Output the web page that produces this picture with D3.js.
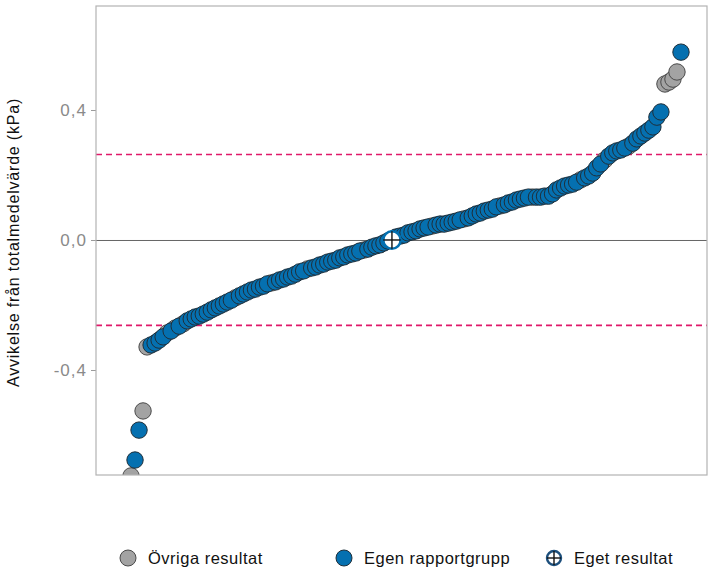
<!DOCTYPE html>
<html>
<head>
<meta charset="utf-8">
<script src="https://cdn.jsdelivr.net/npm/d3@7"></script>
<style>
  html, body { margin: 0; padding: 0; background: #fff; }
  svg { display: block; font-family: "Liberation Sans", Arial, sans-serif; }
</style>
</head>
<body>
<svg id="chart" width="710" height="570"></svg>
<script>
// Deviation from the overall mean (kPa), sorted ascending, one value per laboratory
const deviations = [
  -0.726, -0.677, -0.585, -0.526, -0.329, -0.323, -0.317, -0.308, -0.298, -0.286,
  -0.280, -0.271, -0.265, -0.258, -0.249, -0.243, -0.237, -0.234, -0.228, -0.222,
  -0.215, -0.209, -0.203, -0.197, -0.191, -0.185, -0.178, -0.172, -0.166, -0.160,
  -0.154, -0.151, -0.145, -0.142, -0.135, -0.132, -0.129, -0.123, -0.120, -0.114,
  -0.111, -0.105, -0.098, -0.095, -0.089, -0.086, -0.083, -0.077, -0.074, -0.068,
  -0.065, -0.062, -0.055, -0.052, -0.046, -0.043, -0.040, -0.034, -0.031, -0.028,
  -0.022, -0.018, -0.015, -0.009, -0.003, 0.000, 0.009, 0.012, 0.015, 0.022,
  0.025, 0.028, 0.034, 0.037, 0.040, 0.043, 0.046, 0.049, 0.049, 0.052,
  0.055, 0.058, 0.062, 0.065, 0.068, 0.074, 0.080, 0.083, 0.089, 0.092,
  0.095, 0.102, 0.105, 0.108, 0.114, 0.117, 0.123, 0.126, 0.129, 0.132,
  0.132, 0.132, 0.132, 0.135, 0.135, 0.142, 0.154, 0.160, 0.166, 0.169,
  0.172, 0.178, 0.185, 0.191, 0.197, 0.206, 0.222, 0.234, 0.246, 0.258,
  0.268, 0.274, 0.277, 0.283, 0.289, 0.298, 0.311, 0.320, 0.329, 0.338,
  0.348, 0.378, 0.394, 0.480, 0.486, 0.495, 0.517, 0.578
];

// Group of each result: "ovriga" = other results, "egen" = own report group, "eget" = own result
const groups = [
  "ovriga", "egen", "egen", "ovriga", "ovriga", "egen", "egen", "egen", "egen", "ovriga",
  "egen", "ovriga", "egen", "ovriga", "egen", "egen", "egen", "egen", "egen", "egen",
  "egen", "egen", "egen", "egen", "egen", "egen", "ovriga", "egen", "egen", "egen",
  "egen", "egen", "egen", "egen", "egen", "ovriga", "egen", "egen", "egen", "egen",
  "egen", "egen", "egen", "egen", "ovriga", "egen", "egen", "egen", "egen", "egen",
  "egen", "egen", "egen", "egen", "egen", "egen", "egen", "egen", "ovriga", "egen",
  "egen", "egen", "egen", "egen", "egen", "eget", "egen", "egen", "egen", "egen",
  "egen", "egen", "egen", "egen", "egen", "ovriga", "egen", "egen", "egen", "egen",
  "egen", "egen", "egen", "ovriga", "egen", "egen", "egen", "egen", "egen", "egen",
  "egen", "egen", "ovriga", "egen", "egen", "egen", "egen", "egen", "egen", "egen",
  "ovriga", "egen", "egen", "egen", "egen", "egen", "egen", "egen", "egen", "egen",
  "egen", "egen", "ovriga", "egen", "egen", "egen", "egen", "egen", "ovriga", "egen",
  "egen", "egen", "egen", "egen", "ovriga", "egen", "egen", "egen", "egen", "egen",
  "egen", "egen", "egen", "ovriga", "ovriga", "ovriga", "ovriga", "egen"
];

// Acceptance limits (kPa)
const limits = [-0.263, 0.263];

const yTicks = [-0.4, 0.0, 0.4];
const yTitle = "Avvikelse från totalmedelvärde (kPa)";

const legendLabels = ["Övriga resultat", "Egen rapportgrupp", "Eget resultat"];

const colors = { ovriga: "#a3a3a3", egen: "#0570b0", eget: "#0570b0" };

const data = deviations.map((v, i) => ({ i, v, g: groups[i] }));

const svg = d3.select("#chart");
const panel = { left: 96, right: 707, top: 6, bottom: 475 };

const x = d3.scaleLinear()
  .domain([-8.72, deviations.length - 1 + 6.48])
  .range([panel.left, panel.right]);

const y = d3.scaleLinear()
  .domain([-0.7231, 0.72])
  .range([panel.bottom, panel.top]);

// clip region for the plotting panel
svg.append("defs").append("clipPath").attr("id", "clip")
  .append("rect")
  .attr("x", panel.left).attr("y", panel.top)
  .attr("width", panel.right - panel.left)
  .attr("height", panel.bottom - panel.top);

// y axis with Swedish decimal comma
const yAxis = d3.axisLeft(y)
  .tickValues(yTicks)
  .tickSize(5)
  .tickPadding(4)
  .tickFormat(d => d3.format(".1f")(d).replace(".", ",").replace("−", "-"));

const gy = svg.append("g")
  .attr("transform", `translate(${panel.left},0)`)
  .call(yAxis);
gy.select(".domain").remove();
gy.selectAll(".tick line").attr("stroke", "#9a9a9a");
gy.selectAll(".tick text")
  .attr("fill", "#8a8a8a")
  .style("font-size", "17px")
  .style("letter-spacing", "1px");

svg.append("text")
  .attr("transform", `translate(19,${(panel.top + panel.bottom) / 2 + 2}) rotate(-90)`)
  .attr("text-anchor", "middle")
  .attr("fill", "#111")
  .style("font-size", "16px")
  .style("letter-spacing", "0.8px")
  .text(yTitle);

const plot = svg.append("g").attr("clip-path", "url(#clip)");

// zero line
plot.append("line")
  .attr("x1", panel.left).attr("x2", panel.right)
  .attr("y1", y(0) + 0.5).attr("y2", y(0) + 0.5)
  .attr("stroke", "#666").attr("stroke-width", 1);

// limit lines
plot.selectAll("line.limit")
  .data(limits)
  .join("line")
  .attr("class", "limit")
  .attr("x1", panel.left).attr("x2", panel.right)
  .attr("y1", d => y(d)).attr("y2", d => y(d))
  .attr("stroke", "#e0186a")
  .attr("stroke-width", 1.7)
  .attr("stroke-dasharray", "6,4");

const r = 8.2;

// other results first, then own report group on top
plot.selectAll("circle.ovriga")
  .data(data.filter(d => d.g === "ovriga"))
  .join("circle")
  .attr("class", "ovriga")
  .attr("cx", d => x(d.i)).attr("cy", d => y(d.v))
  .attr("r", r)
  .attr("fill", colors.ovriga)
  .attr("stroke", "#4a4a4a").attr("stroke-width", 1);

plot.selectAll("circle.egen")
  .data(data.filter(d => d.g === "egen"))
  .join("circle")
  .attr("class", "egen")
  .attr("cx", d => x(d.i)).attr("cy", d => y(d.v))
  .attr("r", r)
  .attr("fill", colors.egen)
  .attr("stroke", "#1f2f3a").attr("stroke-width", 1);

// own result: hollow circle with crosshair
function ownSymbol(g, cx, cy, rad, sw, stroke) {
  g.append("circle")
    .attr("cx", cx).attr("cy", cy).attr("r", rad)
    .attr("fill", "#fff")
    .attr("stroke", stroke).attr("stroke-width", sw);
  g.append("line")
    .attr("x1", cx - rad).attr("x2", cx + rad)
    .attr("y1", cy).attr("y2", cy)
    .attr("stroke", "#111").attr("stroke-width", 1.4);
  g.append("line")
    .attr("x1", cx).attr("x2", cx)
    .attr("y1", cy - rad).attr("y2", cy + rad)
    .attr("stroke", "#111").attr("stroke-width", 1.4);
}
data.filter(d => d.g === "eget").forEach(d => {
  ownSymbol(plot.append("g"), x(d.i), y(d.v), 8.7, 2.6, colors.eget);
});

// panel border
svg.append("rect")
  .attr("x", panel.left).attr("y", panel.top)
  .attr("width", panel.right - panel.left)
  .attr("height", panel.bottom - panel.top)
  .attr("fill", "none")
  .attr("stroke", "#b3b3b3").attr("stroke-width", 1.2);

// legend
const legendY = 558;
const legendX = [128, 344, 554];
const lg = svg.append("g");
legendLabels.forEach((label, k) => {
  const cx = legendX[k];
  if (k === 0) {
    lg.append("circle").attr("cx", cx).attr("cy", legendY).attr("r", 8)
      .attr("fill", colors.ovriga).attr("stroke", "#4a4a4a");
  } else if (k === 1) {
    lg.append("circle").attr("cx", cx).attr("cy", legendY).attr("r", 8)
      .attr("fill", colors.egen).attr("stroke", "#1f2f3a");
  } else {
    ownSymbol(lg.append("g"), cx, legendY, 7, 2.4, "#1d4f7c");
  }
  lg.append("text")
    .attr("x", cx + 20).attr("y", legendY + 6)
    .attr("fill", "#111")
    .style("font-size", "16.5px")
    .style("letter-spacing", "0.5px")
    .text(label);
});
</script>
</body>
</html>
